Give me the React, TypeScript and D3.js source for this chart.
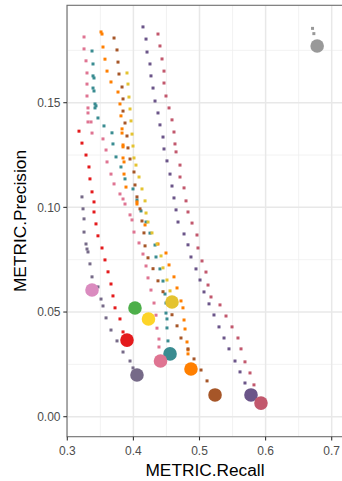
import React, { useRef, useEffect } from 'react';
import * as d3 from 'd3';

const W = 342;
const H = 481;

// one big point per method (its final operating point)
const methodNames = ['grey', 'lightpink', 'green', 'yellow', 'gold', 'red', 'teal', 'rose', 'slate', 'orange', 'brown', 'purple', 'darkrose'];
const methodColors = ['#999999', '#da8bbf', '#4daf4a', '#fdd428', '#e4c330', '#e41a1c', '#3a8c91', '#df7492', '#766a88', '#ff7f00', '#a65628', '#6b5589', '#c2586d'];
const finalRecall = [0.678, 0.3374, 0.4024, 0.4228, 0.4584, 0.3903, 0.4554, 0.441, 0.4054, 0.4871, 0.5235, 0.5779, 0.593];
const finalPrecision = [0.1771, 0.0605, 0.0519, 0.0467, 0.0548, 0.0366, 0.03, 0.0266, 0.0199, 0.0228, 0.0104, 0.0104, 0.0065];

// dotted traces (recall / precision pairs)
const greyRecall = [0.671, 0.673];
const greyPrecision = [0.1855, 0.183];

const roseRecall = [0.3253, 0.3253, 0.3283, 0.3298, 0.3298, 0.3298, 0.3313, 0.3313, 0.3313, 0.3359, 0.3374, 0.354, 0.3586, 0.3601, 0.3661, 0.3707, 0.3797, 0.3843, 0.3873, 0.3949, 0.3979, 0.4009, 0.4085, 0.4145, 0.4191, 0.4221, 0.4266, 0.4312, 0.4342, 0.4357, 0.4387, 0.4387];
const rosePrecision = [0.1814, 0.1757, 0.17, 0.1642, 0.1589, 0.1532, 0.1475, 0.1451, 0.1408, 0.1408, 0.1355, 0.1327, 0.1274, 0.1217, 0.1159, 0.1112, 0.1064, 0.104, 0.1016, 0.0964, 0.094, 0.0882, 0.083, 0.0777, 0.072, 0.0663, 0.0605, 0.0543, 0.0485, 0.0423, 0.0371, 0.0333];

const slateRecall = [0.3222, 0.3238, 0.3253, 0.3253, 0.3283, 0.3298, 0.3313, 0.3343, 0.3374, 0.3464, 0.351, 0.354, 0.3586, 0.3661, 0.3752, 0.3843, 0.3949, 0.3994];
const slatePrecision = [0.105, 0.0993, 0.0945, 0.0882, 0.0825, 0.0801, 0.0787, 0.073, 0.0668, 0.062, 0.0562, 0.0529, 0.0472, 0.0414, 0.0362, 0.0309, 0.0266, 0.0233];

const redRecall = [0.3177, 0.3222, 0.3283, 0.3328, 0.3343, 0.3374, 0.3404, 0.3404, 0.3434, 0.3464, 0.3525, 0.357, 0.3616, 0.3661, 0.3691, 0.3722, 0.3797, 0.3843];
const redPrecision = [0.1364, 0.1307, 0.125, 0.1193, 0.1136, 0.1074, 0.1026, 0.0978, 0.0921, 0.0864, 0.0806, 0.0749, 0.0692, 0.0634, 0.0577, 0.052, 0.0467, 0.0405];

const tealRecall = [0.3374, 0.3389, 0.3389, 0.3404, 0.3389, 0.3404, 0.3419, 0.3434, 0.3419, 0.3464, 0.3555, 0.3676, 0.3691, 0.3737, 0.3812, 0.3873, 0.3994, 0.4054, 0.4115, 0.4191, 0.4251, 0.4327, 0.4342, 0.4402, 0.4448, 0.4478, 0.4493, 0.4493, 0.4508, 0.4508, 0.4523];
const tealPrecision = [0.1747, 0.1685, 0.1628, 0.1618, 0.157, 0.1556, 0.1494, 0.1485, 0.1475, 0.1427, 0.1389, 0.1356, 0.1303, 0.1241, 0.1193, 0.1136, 0.1088, 0.1035, 0.0983, 0.093, 0.0877, 0.082, 0.0763, 0.0706, 0.0648, 0.0586, 0.0543, 0.0495, 0.0467, 0.0424, 0.0362];

const orangeRecall = [0.351, 0.3525, 0.354, 0.357, 0.3601, 0.3661, 0.3767, 0.3797, 0.3812, 0.3828, 0.3828, 0.3843, 0.3843, 0.3843, 0.3858, 0.3858, 0.3888, 0.4054, 0.4054, 0.4176, 0.4372, 0.4493, 0.4539, 0.4614, 0.466, 0.472, 0.475, 0.4766, 0.4781, 0.4811, 0.4826, 0.4826];
const orangePrecision = [0.1838, 0.1828, 0.1766, 0.1708, 0.1651, 0.1599, 0.1551, 0.1494, 0.1437, 0.1375, 0.1355, 0.1298, 0.1289, 0.1236, 0.1217, 0.1159, 0.1097, 0.1026, 0.1016, 0.0916, 0.0825, 0.0782, 0.0725, 0.0668, 0.0615, 0.0553, 0.052, 0.0462, 0.0419, 0.0357, 0.0319, 0.03];

const brownRecall = [0.3707, 0.3752, 0.3767, 0.3782, 0.3828, 0.3843, 0.3843, 0.3873, 0.3903, 0.3918, 0.3949, 0.4009, 0.4024, 0.4054, 0.41, 0.413, 0.416, 0.4176, 0.4221, 0.4297, 0.4372, 0.4448, 0.4523, 0.4584, 0.466, 0.472, 0.4826, 0.4917, 0.5023, 0.5114];
const brownPrecision = [0.1809, 0.1752, 0.1694, 0.1637, 0.1575, 0.1518, 0.146, 0.1403, 0.1341, 0.1284, 0.1231, 0.1169, 0.1107, 0.105, 0.0993, 0.0935, 0.0878, 0.0816, 0.0759, 0.0707, 0.0649, 0.0597, 0.0539, 0.0487, 0.0434, 0.0376, 0.0324, 0.0276, 0.0223, 0.0171];

const goldRecall = [0.3903, 0.3918, 0.3933, 0.3949, 0.3964, 0.3979, 0.3994, 0.4009, 0.4039, 0.4085, 0.413, 0.4176, 0.4191, 0.4221, 0.4281, 0.4357, 0.4418, 0.4448, 0.4508, 0.4554];
const goldPrecision = [0.1642, 0.1589, 0.1527, 0.147, 0.1413, 0.135, 0.1293, 0.1236, 0.1202, 0.1145, 0.1088, 0.1031, 0.0973, 0.093, 0.0878, 0.0825, 0.0768, 0.0711, 0.0653, 0.0601];

const purpleRecall = [0.4145, 0.4191, 0.4206, 0.4251, 0.4266, 0.4297, 0.4327, 0.4372, 0.4402, 0.4448, 0.4463, 0.4508, 0.4554, 0.4584, 0.4614, 0.4645, 0.4675, 0.4766, 0.4826, 0.4871, 0.4947, 0.5008, 0.5068, 0.5144, 0.5219, 0.5295, 0.5371, 0.5446, 0.5537, 0.5613, 0.5688];
const purplePrecision = [0.1862, 0.1804, 0.1742, 0.1685, 0.1628, 0.157, 0.1508, 0.1451, 0.1394, 0.1336, 0.1279, 0.1222, 0.1159, 0.1102, 0.1045, 0.0988, 0.093, 0.0873, 0.0821, 0.0763, 0.0706, 0.0653, 0.0596, 0.0539, 0.0486, 0.0429, 0.0376, 0.0324, 0.0266, 0.0214, 0.0161];

const darkroseRecall = [0.4372, 0.4402, 0.4433, 0.4463, 0.4463, 0.4493, 0.4539, 0.4584, 0.4614, 0.4629, 0.4645, 0.4705, 0.4705, 0.4766, 0.4796, 0.4826, 0.4887, 0.4962, 0.4977, 0.5038, 0.5098, 0.5129, 0.5174, 0.531, 0.5401, 0.5492, 0.5582, 0.5628, 0.5688, 0.5764, 0.5824];
const darkrosePrecision = [0.1828, 0.1771, 0.1709, 0.1651, 0.1594, 0.1532, 0.1475, 0.1418, 0.136, 0.1303, 0.1265, 0.1202, 0.1145, 0.1093, 0.1031, 0.0978, 0.0925, 0.0868, 0.0806, 0.0744, 0.0691, 0.0629, 0.0572, 0.0534, 0.0481, 0.0429, 0.0376, 0.0324, 0.0262, 0.0209, 0.0152];

const traces = [
    { name: 'grey', recall: greyRecall, precision: greyPrecision },
    { name: 'rose', recall: roseRecall, precision: rosePrecision },
    { name: 'slate', recall: slateRecall, precision: slatePrecision },
    { name: 'red', recall: redRecall, precision: redPrecision },
    { name: 'teal', recall: tealRecall, precision: tealPrecision },
    { name: 'orange', recall: orangeRecall, precision: orangePrecision },
    { name: 'brown', recall: brownRecall, precision: brownPrecision },
    { name: 'gold', recall: goldRecall, precision: goldPrecision },
    { name: 'purple', recall: purpleRecall, precision: purplePrecision },
    { name: 'darkrose', recall: darkroseRecall, precision: darkrosePrecision },
];

const xTicks = [0.3, 0.4, 0.5, 0.6, 0.7];
const xMinor = [0.35, 0.45, 0.55, 0.65];
const yTicks = [0, 0.05, 0.1, 0.15];
const yMinor = [0.025, 0.075, 0.125, 0.175];

const FONT = '"Liberation Sans", Arial, sans-serif';

const App = () => {
    const svgRef = useRef<SVGSVGElement>(null);

    useEffect(() => {
        const svg = d3.select(svgRef.current);
        svg.selectAll('*').remove();

        // panel box
        const left = 67, top = 5.3, bottom = 436.7, right = 345;

        const x = d3.scaleLinear().domain([0.3, 0.7]).range([67.3, 331.7]);
        const y = d3.scaleLinear().domain([0, 0.15]).range([416.7, 102.7]);
        const colorOf = (n: string) => methodColors[methodNames.indexOf(n)];

        svg.append('rect')
            .attr('x', left).attr('y', top)
            .attr('width', right - left).attr('height', bottom - top)
            .attr('fill', 'white');

        // grid
        const grid = svg.append('g');
        grid.selectAll('.vmin').data(xMinor).join('line')
            .attr('x1', d => x(d)).attr('x2', d => x(d))
            .attr('y1', top).attr('y2', bottom)
            .attr('stroke', '#efefef').attr('stroke-width', 0.8);
        grid.selectAll('.hmin').data(yMinor).join('line')
            .attr('y1', d => y(d)).attr('y2', d => y(d))
            .attr('x1', left).attr('x2', right)
            .attr('stroke', '#efefef').attr('stroke-width', 0.8);
        grid.selectAll('.vmaj').data(xTicks).join('line')
            .attr('x1', d => x(d)).attr('x2', d => x(d))
            .attr('y1', top).attr('y2', bottom)
            .attr('stroke', '#e8e8e8').attr('stroke-width', 1.5);
        grid.selectAll('.hmaj').data(yTicks).join('line')
            .attr('y1', d => y(d)).attr('y2', d => y(d))
            .attr('x1', left).attr('x2', right)
            .attr('stroke', '#e8e8e8').attr('stroke-width', 1.5);

        // dotted traces
        const dots = svg.append('g');
        traces.forEach(t => {
            const pts = t.recall.map((r, i) => [r, t.precision[i]]);
            dots.selectAll(null).data(pts).join('rect')
                .attr('x', d => x(d[0]) - 1.5)
                .attr('y', d => y(d[1]) - 1.5)
                .attr('width', 3).attr('height', 3)
                .attr('fill', colorOf(t.name));
        });

        // final points
        svg.append('g').selectAll('circle')
            .data(methodNames)
            .join('circle')
            .attr('cx', (d, i) => x(finalRecall[i]))
            .attr('cy', (d, i) => y(finalPrecision[i]))
            .attr('r', 6.8)
            .attr('fill', (d, i) => methodColors[i]);

        // border
        svg.append('rect')
            .attr('x', left).attr('y', top)
            .attr('width', right - left).attr('height', bottom - top)
            .attr('fill', 'none').attr('stroke', '#6e6e6e').attr('stroke-width', 1.1);

        // y axis
        const ya = svg.append('g');
        ya.selectAll('line').data(yTicks).join('line')
            .attr('x1', left - 3.7).attr('x2', left)
            .attr('y1', d => y(d)).attr('y2', d => y(d))
            .attr('stroke', '#333').attr('stroke-width', 1.1);
        ya.selectAll('text').data(yTicks).join('text')
            .attr('x', left - 6.5).attr('y', d => y(d))
            .attr('dy', '0.35em')
            .attr('text-anchor', 'end')
            .attr('font-family', FONT).attr('font-size', 12)
            .attr('fill', '#4d4d4d')
            .text(d => d3.format('.2f')(d));

        // x axis
        const xa = svg.append('g');
        xa.selectAll('line').data(xTicks).join('line')
            .attr('x1', d => x(d)).attr('x2', d => x(d))
            .attr('y1', bottom).attr('y2', bottom + 3.7)
            .attr('stroke', '#333').attr('stroke-width', 1.1);
        xa.selectAll('text').data(xTicks).join('text')
            .attr('x', d => x(d)).attr('y', 455)
            .attr('text-anchor', 'middle')
            .attr('font-family', FONT).attr('font-size', 12)
            .attr('fill', '#4d4d4d')
            .text(d => d3.format('.1f')(d));

        // titles
        svg.append('text')
            .attr('x', (left + right) / 2 - 1).attr('y', 476)
            .attr('text-anchor', 'middle')
            .attr('font-family', FONT).attr('font-size', 17.3)
            .attr('fill', 'black')
            .text('METRIC.Recall');
        svg.append('text')
            .attr('transform', `translate(26, ${(top + bottom) / 2}) rotate(-90)`)
            .attr('text-anchor', 'middle')
            .attr('font-family', FONT).attr('font-size', 17.3)
            .attr('fill', 'black')
            .text('METRIC.Precision');
    }, []);

    return (
        <svg ref={svgRef} width={W} height={H}
            style={{ position: 'absolute', left: 0, top: 0, background: 'white' }} />
    );
};

export default App;
